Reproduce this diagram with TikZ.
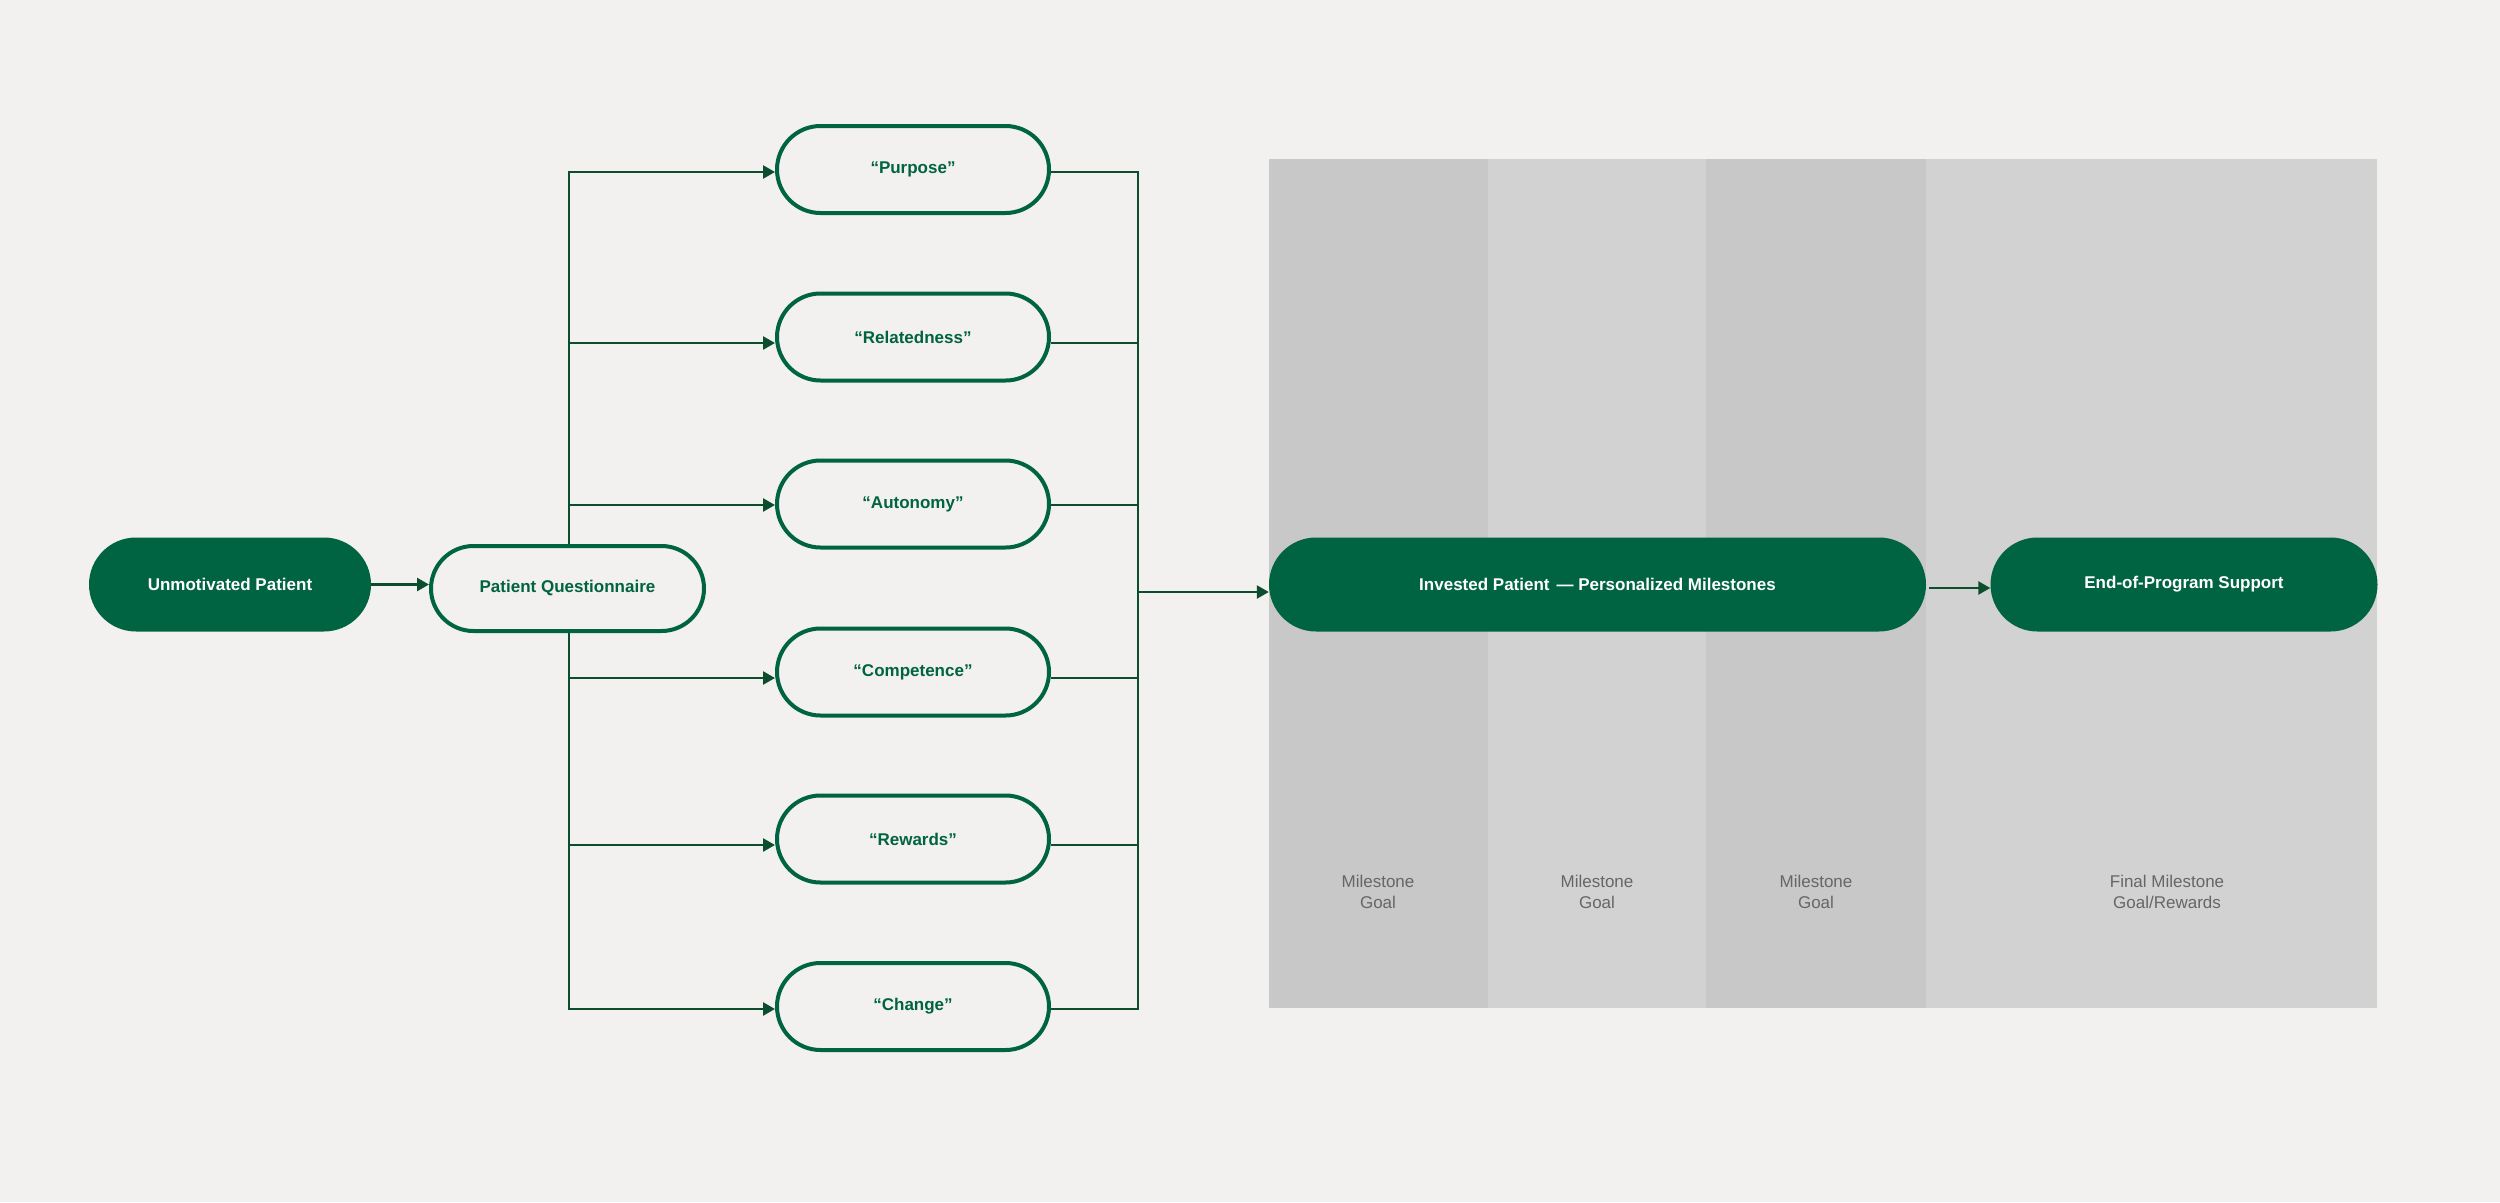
\documentclass[tikz,border=0pt]{standalone}
\usepackage{fontspec}
\setmainfont{Liberation Sans}
\usetikzlibrary{arrows.meta,calc}
\definecolor{bgc}{HTML}{F2F1EF}
\definecolor{grn}{HTML}{006341}
\definecolor{lnc}{HTML}{0B4D2C}
\definecolor{colA}{HTML}{C8C8C8}
\definecolor{colB}{HTML}{D2D2D2}
\definecolor{txg}{HTML}{666666}
\pgfdeclarelayer{back}
\pgfdeclarelayer{canvas}
\pgfsetlayers{canvas,back,main}
\begin{document}
\begin{tikzpicture}[x=1pt,y=-1pt,
  solidnode/.style={rectangle, rounded corners=47pt, fill=grn, text=white,
    font=\bfseries\fontsize{17}{20}\selectfont, minimum width=#1,
    minimum height=94pt, inner sep=0pt},
  outnode/.style={rectangle, rounded corners=43.5pt, draw=grn, line width=4pt,
    fill=bgc, text=grn, font=\bfseries\fontsize{17}{20}\selectfont,
    minimum width=272pt, minimum height=87pt, inner sep=0pt},
  conn/.style={draw=lnc, line width=2.5pt},
  arr/.style={conn, -{Triangle[length=12pt,width=13pt]}},
  lbl/.style={font=\fontsize{17}{21}\selectfont, text=txg, align=center, inner sep=0pt}]
\useasboundingbox (0,0) rectangle (2500,1202);
\begin{pgfonlayer}{canvas}
\fill[bgc] (0,0) rectangle (2500,1202);
% milestone panel
\fill[colA] (1269,159) rectangle (1488,1008);
\fill[colB] (1488,159) rectangle (1706,1008);
\fill[colA] (1706,159) rectangle (1926,1008);
\fill[colB] (1926,159) rectangle (2377,1008);
\end{pgfonlayer}
\node[lbl] (m1) at (1378,892) {Milestone\\Goal};
\node[lbl] (m2) at (1597,892) {Milestone\\Goal};
\node[lbl] (m3) at (1816,892) {Milestone\\Goal};
\node[lbl] (m4) at (2167,892) {Final Milestone\\Goal/Rewards};
% nodes
\node[solidnode=282pt] (unm) at (230,584.5) {Unmotivated Patient};
\node[outnode, minimum width=273pt, minimum height=85pt, rounded corners=42.5pt] (pq) at (567.5,588.5) {Patient Questionnaire};
\node[outnode] (o1) at (913,169.5) {“Purpose”};
\node[outnode] (o2) at (913,337) {“Relatedness”};
\node[outnode] (o3) at (913,504) {“Autonomy”};
\node[outnode] (o4) at (913,672) {“Competence”};
\node[outnode] (o5) at (913,839) {“Rewards”};
\node[outnode] (o6) at (913,1006.5) {“Change”};
\node[solidnode=657pt] (inv) at (1597.5,584.5) {Invested Patient\hspace{7pt}— Personalized Milestones};
\node[solidnode=387pt] (fin) at (2184,584.5) {End-of-Program Support};
% bus coordinates
\coordinate (bL1) at (569,172);
\coordinate (bL2) at (569,343);
\coordinate (bL3) at (569,505);
\coordinate (bL4) at (569,678);
\coordinate (bL5) at (569,845);
\coordinate (bL6) at (569,1009);
\coordinate (bR1) at (1138,172);
\coordinate (bR2) at (1138,343);
\coordinate (bR3) at (1138,505);
\coordinate (bR4) at (1138,678);
\coordinate (bR5) at (1138,845);
\coordinate (bR6) at (1138,1009);
\coordinate (bRm) at (1138,592);
\begin{pgfonlayer}{back}
\draw[conn, line cap=rect] (bL1) -- (bL6);
\draw[conn, line cap=rect] (bR1) -- (bR6);
\end{pgfonlayer}
\draw[arr] (unm.east) -- (unm.east -| pq.west);
\foreach \i in {1,...,6}{
  \draw[arr] (bL\i) -- (bL\i -| o\i.west);
  \draw[conn] (bR\i -| o\i.east) -- (bR\i);
}
\draw[arr] (bRm) -- (bRm -| inv.west);
\draw[arr] ([yshift=-3.5pt,xshift=3pt]inv.east) -- ([yshift=-3.5pt]inv.east -| fin.west);
\end{tikzpicture}
\end{document}
